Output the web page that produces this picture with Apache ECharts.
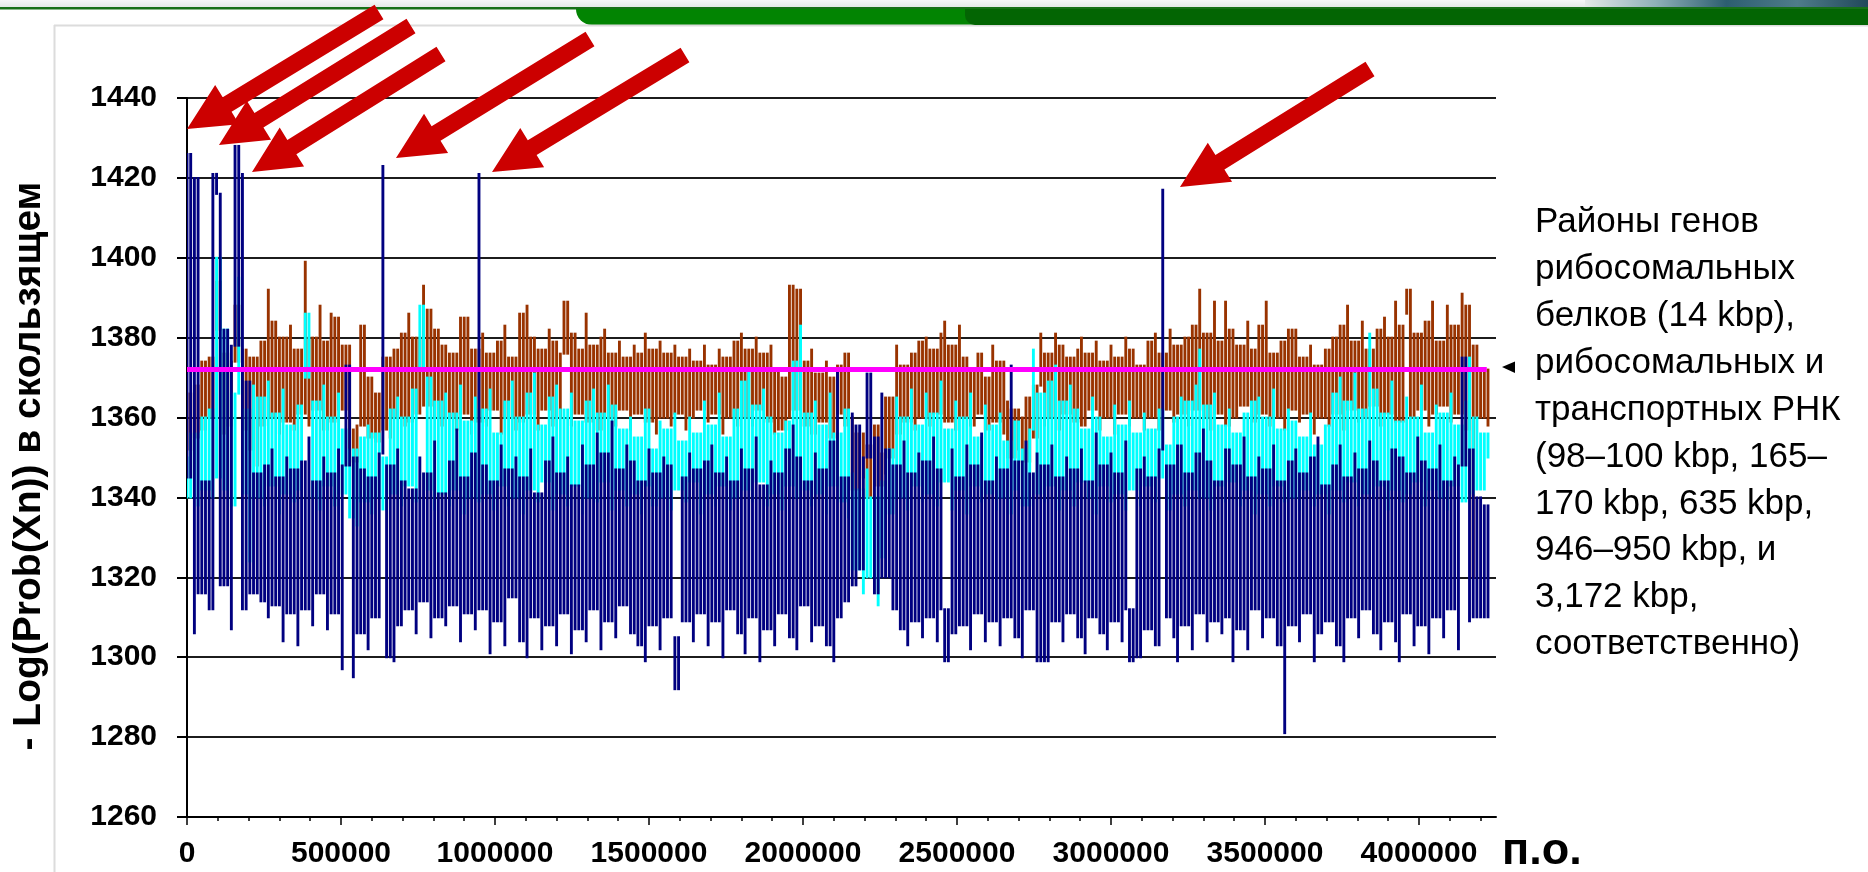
<!DOCTYPE html>
<html>
<head>
<meta charset="utf-8">
<script src="https://cdn.jsdelivr.net/npm/echarts@6/dist/echarts.min.js"></script>
<style>
html, body { margin: 0; padding: 0; background: #fff; }
#chart { width: 1868px; height: 872px; }
</style>
</head>
<body>
<div id="chart"></div>
<script>
// sample spacing along the genome, bp
const STEP = 12000;

// upper series (brown)
const brown = [
  1366,1352,1368,1355,1374,1357,1375,1360,1394,1382,
  1356,1376,1358,1374,1388,1357,1377,1352,1375,1348,
  1379,1358,1392,1360,1384,1356,1380,1359,1383,1357,
  1377,1361,1399,1358,1380,1362,1388,1357,1379,1386,
  1359,1385,1362,1378,1352,1357,1349,1358,1383,1355,
  1370,1354,1366,1357,1375,1355,1377,1360,1381,1358,
  1386,1359,1380,1361,1393,1363,1387,1360,1382,1358,
  1378,1360,1376,1357,1385,1361,1385,1356,1377,1359,
  1381,1358,1376,1362,1379,1356,1383,1360,1375,1357,
  1386,1359,1388,1361,1380,1357,1377,1362,1382,1358,
  1379,1360,1376,1389,1358,1381,1361,1377,1386,1359,
  1378,1357,1380,1382,1360,1376,1358,1379,1362,1375,
  1357,1378,1361,1376,1381,1359,1377,1356,1379,1360,
  1376,1358,1378,1361,1375,1357,1377,1360,1374,1362,
  1378,1359,1373,1361,1377,1356,1375,1360,1379,1358,
  1381,1360,1377,1358,1380,1362,1376,1359,1378,1356,
  1372,1357,1370,1360,1393,1362,1392,1358,1374,1377,
  1356,1371,1359,1374,1355,1370,1361,1373,1376,1358,
  1360,1342,1356,1345,1353,1340,1358,1343,1351,1346,
  1365,1350,1378,1356,1373,1359,1376,1357,1379,1360,
  1380,1358,1377,1361,1381,1384,1359,1378,1357,1383,
  1360,1375,1358,1372,1361,1376,1357,1370,1378,1359,
  1374,1356,1364,1350,1362,1352,1360,1349,1365,1355,
  1368,1381,1358,1376,1360,1381,1357,1378,1361,1375,
  1359,1377,1380,1358,1376,1362,1379,1357,1374,1360,
  1378,1356,1375,1361,1380,1358,1377,1360,1373,1357,
  1379,1360,1381,1357,1376,1362,1382,1359,1378,1361,
  1380,1358,1383,1362,1392,1360,1381,1357,1389,1361,
  1379,1389,1358,1382,1360,1378,1363,1384,1359,1377,
  1383,1361,1389,1358,1376,1360,1379,1357,1382,1362,
  1382,1359,1375,1361,1378,1356,1373,1360,1377,1358,
  1380,1361,1383,1357,1388,1362,1379,1359,1384,1360,
  1377,1363,1382,1358,1385,1361,1380,1389,1359,1383,
  1386,1392,1360,1381,1362,1384,1358,1389,1361,1379,
  1363,1388,1359,1383,1361,1391,1357,1388,1320,1378,
  1360,1372,1358
];

// middle series (cyan)
const cyan = [
  1350,1340,1356,1338,1360,1342,1362,1340,1400,1345,
  1342,1382,1338,1366,1395,1341,1362,1324,1368,1340,
  1365,1338,1369,1343,1361,1336,1367,1341,1358,1339,
  1363,1342,1370,1386,1340,1364,1337,1368,1343,1360,
  1338,1366,1341,1357,1335,1352,1333,1355,1339,1358,
  1336,1356,1340,1350,1337,1362,1341,1365,1338,1360,
  1343,1367,1339,1372,1388,1342,1370,1337,1364,1341,
  1366,1338,1361,1342,1368,1336,1359,1340,1365,1339,
  1362,1341,1367,1337,1356,1343,1364,1338,1369,1340,
  1360,1336,1366,1342,1371,1339,1358,1344,1365,1337,
  1368,1341,1362,1338,1366,1343,1359,1336,1364,1340,
  1367,1339,1361,1344,1368,1337,1363,1342,1357,1338,
  1360,1341,1355,1336,1362,1343,1352,1338,1359,1340,
  1357,1337,1361,1342,1354,1339,1360,1344,1356,1336,
  1364,1341,1358,1338,1366,1343,1355,1337,1362,1340,
  1369,1342,1372,1339,1363,1344,1367,1338,1360,1341,
  1356,1337,1359,1343,1374,1340,1383,1342,1361,1338,
  1364,1341,1358,1336,1366,1343,1356,1339,1362,1335,
  1346,1322,1342,1316,1347,1320,1340,1313,1344,1325,
  1352,1336,1365,1340,1360,1337,1367,1343,1358,1339,
  1366,1341,1361,1338,1369,1344,1357,1337,1364,1342,
  1360,1336,1366,1343,1355,1339,1363,1341,1358,1337,
  1361,1340,1354,1336,1359,1342,1352,1338,1357,1377,
  1341,1366,1339,1369,1343,1373,1337,1364,1342,1368,
  1338,1362,1344,1357,1340,1365,1336,1360,1343,1355,
  1339,1363,1341,1358,1337,1364,1342,1356,1338,1361,
  1343,1357,1339,1362,1345,1353,1337,1360,1341,1365,
  1338,1364,1342,1368,1377,1340,1363,1337,1366,1343,
  1358,1339,1362,1344,1356,1338,1361,1342,1364,1336,
  1365,1341,1360,1338,1367,1343,1357,1339,1362,1340,
  1359,1337,1355,1342,1361,1338,1353,1341,1358,1336,
  1366,1342,1370,1339,1364,1344,1371,1338,1362,1341,
  1381,1340,1367,1343,1361,1337,1369,1342,1359,1339,
  1365,1341,1360,1344,1368,1338,1356,1342,1363,1340,
  1361,1337,1366,1343,1358,1339,1364,1375,1341,1360,
  1342,1356,1350
];

// lower series (navy)
const navy = [
  1345,1426,1306,1420,1316,1344,1312,1421,1421,1416,
  1318,1382,1307,1378,1428,1421,1312,1369,1316,1346,
  1314,1348,1310,1352,1313,1345,1304,1350,1311,1347,
  1303,1349,1312,1355,1308,1344,1316,1350,1307,1346,
  1311,1352,1297,1348,1373,1295,1350,1306,1347,1302,
  1345,1310,1351,1423,1300,1348,1299,1352,1308,1344,
  1312,1342,1306,1350,1314,1346,1305,1354,1310,1341,
  1308,1349,1313,1357,1304,1345,1311,1351,1307,1421,
  1312,1348,1301,1344,1309,1353,1303,1347,1315,1350,
  1304,1345,1300,1352,1310,1341,1302,1349,1308,1355,
  1303,1346,1311,1350,1301,1343,1307,1353,1304,1348,
  1312,1356,1302,1351,1309,1359,1305,1347,1313,1353,
  1306,1349,1303,1344,1299,1352,1308,1346,1302,1350,
  1310,1348,1305,1292,1345,1309,1351,1304,1347,1311,
  1349,1303,1353,1309,1346,1300,1350,1312,1344,1306,
  1352,1301,1347,1310,1355,1299,1343,1307,1349,1303,
  1346,1311,1352,1305,1358,1302,1350,1313,1344,1304,
  1351,1308,1347,1303,1354,1299,1372,1310,1345,1314,
  1361,1318,1358,1322,1350,1371,1316,1355,1366,1320,
  1352,1312,1348,1307,1354,1303,1346,1309,1351,1305,
  1349,1310,1355,1304,1347,1312,1299,1352,1306,1345,
  1308,1353,1302,1348,1311,1356,1304,1344,1309,1350,
  1303,1347,1310,1373,1305,1349,1300,1354,1312,1346,
  1351,1299,1348,1299,1353,1309,1345,1304,1350,1311,
  1347,1305,1352,1301,1344,1310,1356,1306,1348,1302,
  1351,1309,1346,1304,1354,1312,1299,1347,1300,1350,
  1307,1345,1303,1352,1417,1310,1348,1305,1299,1353,
  1308,1346,1302,1351,1311,1357,1304,1349,1309,1344,
  1306,1352,1310,1299,1348,1307,1355,1302,1345,1312,
  1350,1305,1347,1310,1353,1303,1344,1281,1349,1308,
  1352,1304,1346,1311,1350,1299,1355,1306,1343,1309,
  1348,1303,1353,1299,1345,1310,1351,1305,1347,1312,
  1354,1306,1349,1302,1344,1309,1352,1304,1299,1350,
  1311,1346,1303,1355,1308,1349,1301,1347,1310,1353,
  1305,1344,1312,1350,1302,1348,1375,1309,1352,1310,
  1340,1310,1338
];

// threshold line
const meanLevel = 1372;
const meanEnd = 4220000;

const yTicks = [1260, 1280, 1300, 1320, 1340, 1360, 1380, 1400, 1420, 1440];
const xLabels = [0, 500000, 1000000, 1500000, 2000000, 2500000, 3000000, 3500000, 4000000];
const xMinorTicks = [
  0, 100000, 200000, 300000, 400000, 500000, 600000, 700000, 800000, 900000,
  1000000, 1100000, 1200000, 1300000, 1400000, 1500000, 1600000, 1700000, 1800000, 1900000,
  2000000, 2100000, 2200000, 2300000, 2400000, 2500000, 2600000, 2700000, 2800000, 2900000,
  3000000, 3100000, 3200000, 3300000, 3400000, 3500000, 3600000, 3700000, 3800000, 3900000,
  4000000, 4100000, 4200000
];
const xMax = 4250000;

const yName = '- Log(Prob(Xn)) в скользящем';
const xName = 'п.о.';
const noteLines = [
  'Районы генов',
  'рибосомальных',
  'белков (14 kbp),',
  'рибосомальных и',
  'транспортных РНК',
  '(98–100 kbp, 165–',
  '170 kbp, 635 kbp,',
  '946–950 kbp, и',
  '3,172 kbp,',
  'соответственно)'
];

const FONT = '"Liberation Sans", Arial, sans-serif';

// each sample becomes a vertical stroke running from its value to a
// neighbouring value (the nearer one, unless that one is almost level),
// which is how a very dense trace looks on screen
function toStrokes(arr) {
  return arr.map((v, i) => {
    const prev = i > 0 ? arr[i - 1] : arr[i + 1];
    const next = i < arr.length - 1 ? arr[i + 1] : arr[i - 1];
    const dp = Math.abs(v - prev), dn = Math.abs(v - next);
    let near = dp <= dn ? prev : next;
    let far = dp <= dn ? next : prev;
    const base = Math.min(dp, dn) < 12 ? far : near;
    return [i * STEP, v, base];
  });
}

// red block arrows: [tip, tail] in page pixels
const arrows = [
  [[187, 129], [379, 12]],
  [[219, 145], [411, 26]],
  [[252, 172], [441, 54]],
  [[396, 158], [590, 39]],
  [[492, 172], [685, 55]],
  [[1180, 187], [1370, 69]]
];

function arrowPoints(tip, tail) {
  const dx = tip[0] - tail[0], dy = tip[1] - tail[1];
  const len = Math.hypot(dx, dy);
  const ux = dx / len, uy = dy / len;
  const nx = -uy, ny = ux;
  const hl = 47, hw = 23, sw = 8.5;
  const bx = tip[0] - ux * hl, by = tip[1] - uy * hl;
  return [
    [tail[0] + nx * sw, tail[1] + ny * sw],
    [bx + nx * sw, by + ny * sw],
    [bx + nx * hw, by + ny * hw],
    tip,
    [bx - nx * hw, by - ny * hw],
    [bx - nx * sw, by - ny * sw],
    [tail[0] - nx * sw, tail[1] - ny * sw]
  ];
}

const chart = echarts.init(document.getElementById('chart'));

const graphics = [
  // slide header strip
  { type: 'rect', z: -10, shape: { x: 0, y: 0, width: 1868, height: 7 },
    style: { fill: new echarts.graphic.LinearGradient(0, 0, 0, 1, [
      { offset: 0, color: '#f6f7f7' }, { offset: 1, color: '#e4e9e7' }]) } },
  { type: 'rect', z: -9, shape: { x: 1585, y: 0, width: 283, height: 7 },
    style: { fill: new echarts.graphic.LinearGradient(0, 0, 1, 0, [
      { offset: 0, color: '#e4e9e7' }, { offset: 0.25, color: '#8fb0b8' },
      { offset: 0.5, color: '#2d5e70' }, { offset: 0.75, color: '#4f7c8a' },
      { offset: 1, color: '#21485a' }]) } },
  { type: 'rect', z: -9, shape: { x: 0, y: 7, width: 1868, height: 2.5 },
    style: { fill: '#177017' } },
  { type: 'rect', z: -9, shape: { x: 576, y: 9, width: 1320, height: 16, r: [0, 0, 0, 16] },
    style: { fill: '#028402' } },
  { type: 'rect', z: -8, shape: { x: 965, y: 9, width: 930, height: 16, r: [0, 0, 0, 10] },
    style: { fill: '#036503' } },
  // panel border
  { type: 'line', z: -9, shape: { x1: 54, y1: 25.5, x2: 1868, y2: 25.5 },
    style: { stroke: '#dcdcdc', lineWidth: 2 } },
  { type: 'line', z: -9, shape: { x1: 54.5, y1: 25, x2: 54.5, y2: 872 },
    style: { stroke: '#dcdcdc', lineWidth: 2 } },
  // axis titles
  { type: 'text', x: 29, y: 466, rotation: Math.PI / 2,
    style: { text: yName, fill: '#000', font: 'bold 39px ' + FONT,
      textAlign: 'center', textVerticalAlign: 'middle', align: 'center', verticalAlign: 'middle' } },
  { type: 'text', x: 1502, y: 852,
    style: { text: xName, fill: '#000', font: 'bold 45px ' + FONT,
      textAlign: 'left', textVerticalAlign: 'middle', align: 'left', verticalAlign: 'middle' } },
  // annotation
  { type: 'polygon', shape: { points: [[1502, 367], [1515, 361.5], [1515, 373]] },
    style: { fill: '#000' } },
  { type: 'text', x: 1535, y: 199,
    style: { text: noteLines.join('\n'), fill: '#000', font: '35px ' + FONT, lineHeight: 46.9,
      textAlign: 'left', textVerticalAlign: 'top', align: 'left', verticalAlign: 'top' } }
];

arrows.forEach(a => {
  graphics.push({ type: 'polygon', z: 100, shape: { points: arrowPoints(a[0], a[1]) },
    style: { fill: '#cc0000' } });
});

const traceSeries = (values, color) => ({
  type: 'custom',
  coordinateSystem: 'cartesian2d',
  data: toStrokes(values),
  encode: { x: 0, y: [1, 2] },
  clip: true,
  silent: true,
  animation: false,
  renderItem: (params, api) => {
    const x = api.value(0);
    const a = api.coord([x, api.value(1)]);
    const b = api.coord([x, api.value(2)]);
    const w = api.size([STEP, 0])[0] * 0.78;
    const top = Math.min(a[1], b[1]);
    const h = Math.max(Math.abs(a[1] - b[1]), 2);
    return {
      type: 'rect',
      shape: { x: a[0] - w / 2, y: top - 1, width: w, height: h + 2 },
      style: { fill: color }
    };
  }
});

chart.setOption({
  animation: false,
  backgroundColor: '#fff',
  grid: { left: 187, top: 98, width: 1309, height: 719, containLabel: false, outerBoundsMode: 'none' },
  xAxis: [
    {
      type: 'value', min: 0, max: xMax, position: 'bottom',
      axisLine: { show: true, onZero: false, lineStyle: { color: '#000', width: 2 } },
      axisTick: { show: true, length: 4, customValues: xMinorTicks, lineStyle: { color: '#000', width: 1.5 } },
      axisLabel: { show: false },
      splitLine: { show: false }
    },
    {
      type: 'value', min: 0, max: xMax, position: 'bottom',
      axisLine: { show: false, onZero: false },
      axisTick: { show: true, length: 8, customValues: xLabels, lineStyle: { color: '#000', width: 1.5 } },
      axisLabel: {
        customValues: xLabels, margin: 22, color: '#000', fontSize: 30, fontWeight: 'bold',
        fontFamily: FONT, formatter: v => String(v)
      },
      splitLine: { show: false }
    }
  ],
  yAxis: {
    type: 'value', min: yTicks[0], max: yTicks[yTicks.length - 1], interval: 20,
    axisLine: { show: true, onZero: false, lineStyle: { color: '#000', width: 2 } },
    axisTick: { show: true, length: 10, lineStyle: { color: '#000', width: 2 } },
    axisLabel: { margin: 30, color: '#000', fontSize: 30, fontWeight: 'bold', fontFamily: FONT,
      formatter: v => String(v) },
    splitLine: { show: true, lineStyle: { color: '#1c1c1c', width: 2 } }
  },
  series: [
    traceSeries(brown, '#993300'),
    traceSeries(cyan, '#00ffff'),
    traceSeries(navy, '#000080'),
    {
      type: 'line', data: [[0, meanLevel], [meanEnd, meanLevel]],
      showSymbol: false, symbol: 'none', silent: true, z: 5,
      lineStyle: { color: '#ff00ff', width: 5 }
    }
  ],
  graphic: graphics
});
</script>
</body>
</html>
